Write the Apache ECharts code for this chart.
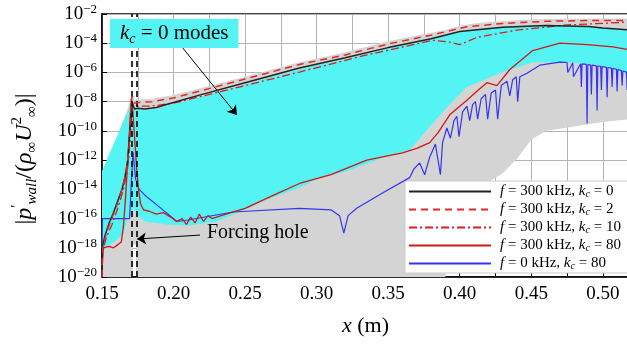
<!DOCTYPE html>
<html>
<head>
<meta charset="utf-8">
<script src="https://cdn.jsdelivr.net/npm/echarts@6/dist/echarts.min.js"></script>
<style>
  html, body { margin: 0; padding: 0; background: #fff; }
  #chart { width: 627px; height: 344px; }
</style>
</head>
<body>
<div id="chart"></div>
<script>
// values on the y axis are log10 of |p'wall / (rho U^2)|
const SERIF = 'Liberation Serif';

// f = 300 kHz, kc = 0
const blackX = [0.150, 0.1505, 0.152, 0.155, 0.158, 0.161, 0.164, 0.166, 0.168, 0.1695, 0.1708, 0.1716, 0.1728, 0.175, 0.180, 0.188, 0.195, 0.22, 0.25, 0.288, 0.32, 0.35, 0.38, 0.40, 0.43, 0.46, 0.49, 0.50, 0.519];
const blackY = [-20, -17.8, -17.2, -16.3, -15.6, -14.8, -14.0, -13.2, -12.0, -10.0, -8.1, -8.0, -8.5, -8.45, -8.5, -8.4, -8.2, -7.5, -6.7, -5.7, -5.0, -4.3, -3.7, -3.2, -2.9, -2.78, -2.85, -2.95, -3.1];

// f = 300 kHz, kc = 2
const dashX = [0.150, 0.1505, 0.153, 0.156, 0.160, 0.164, 0.167, 0.169, 0.1703, 0.1712, 0.1725, 0.176, 0.185, 0.20, 0.25, 0.288, 0.32, 0.35, 0.38, 0.405, 0.43, 0.46, 0.49, 0.519];
const dashY = [-20, -18.0, -17.0, -16.2, -15.2, -14.0, -12.8, -11.0, -8.0, -7.6, -8.1, -8.05, -8.0, -7.75, -6.45, -5.45, -4.8, -4.05, -3.45, -2.87, -2.65, -2.5, -2.45, -2.45];

// f = 300 kHz, kc = 10
const dotX = [0.150, 0.1505, 0.153, 0.157, 0.161, 0.165, 0.168, 0.1698, 0.171, 0.1722, 0.175, 0.185, 0.20, 0.25, 0.288, 0.335, 0.365, 0.381, 0.392, 0.40, 0.412, 0.44, 0.475, 0.519];
const dotY = [-20, -18.2, -17.3, -16.4, -15.3, -14.0, -12.5, -10.5, -8.0, -8.3, -8.3, -8.3, -8.1, -6.9, -5.97, -4.8, -4.15, -3.8, -3.9, -4.1, -3.6, -3.1, -2.75, -2.55];

// f = 300 kHz, kc = 80
const redX = [0.150, 0.1503, 0.1508, 0.152, 0.155, 0.158, 0.161, 0.1635, 0.165, 0.1665, 0.168, 0.1695, 0.1705, 0.1715, 0.1728, 0.174, 0.1755, 0.177, 0.179, 0.183, 0.188, 0.193, 0.198, 0.202, 0.206, 0.209, 0.212, 0.215, 0.218, 0.221, 0.224, 0.227, 0.23, 0.24, 0.25, 0.27, 0.288, 0.31, 0.335, 0.36, 0.37, 0.379, 0.385, 0.393, 0.405, 0.413, 0.419, 0.426, 0.435, 0.451, 0.47, 0.489, 0.507, 0.519];
const redY = [-20, -18.6, -18.0, -18.1, -17.9, -18.0, -17.8, -17.6, -16.5, -14.5, -12.0, -9.5, -7.8, -8.6, -10.5, -12.3, -14.0, -15.0, -15.4, -15.5, -15.7, -15.6, -15.9, -16.2, -16.0, -16.4, -15.9, -16.3, -15.7, -16.2, -15.8, -16.0, -15.9, -15.6, -15.3, -14.4, -13.6, -13.0, -12.0, -11.5, -11.2, -10.8, -10.1, -8.9, -7.9, -7.2, -6.7, -6.9, -5.8, -4.5, -4.0, -4.1, -4.25, -4.45];

// f = 0 kHz, kc = 80
const blueX = [0.150, 0.1503, 0.155, 0.160, 0.165, 0.1693, 0.1705, 0.1717, 0.1735, 0.176, 0.180, 0.190, 0.2024, 0.21, 0.2417, 0.288, 0.31, 0.316, 0.319, 0.322, 0.328, 0.346, 0.365, 0.368, 0.372, 0.3755, 0.379, 0.383, 0.3865, 0.388, 0.391, 0.3935, 0.396, 0.398, 0.3995, 0.402, 0.405, 0.407, 0.409, 0.411, 0.4125, 0.415, 0.418, 0.4195, 0.422, 0.425, 0.4265, 0.429, 0.433, 0.435, 0.437, 0.4395, 0.4405, 0.442, 0.447, 0.456, 0.47, 0.475, 0.4755, 0.479, 0.4795, 0.4845, 0.485, 0.4855, 0.4885, 0.489, 0.4895, 0.4915, 0.492, 0.4925, 0.4955, 0.496, 0.4965, 0.4985, 0.499, 0.4995, 0.5025, 0.503, 0.5035, 0.506, 0.5065, 0.507, 0.5095, 0.51, 0.5105, 0.513, 0.5135, 0.514, 0.5165, 0.517, 0.5175, 0.519];
const blueY = [-18, -16.0, -16.0, -16.0, -16.0, -16.0, -13.5, -11.45, -13.3, -14.0, -14.4, -15.2, -16.2, -16.1, -15.55, -15.3, -15.4, -15.8, -17.0, -15.8, -15.3, -14.25, -13.2, -12.6, -12.2, -13.0, -11.8, -10.9, -13.0, -10.8, -9.8, -10.5, -9.3, -9.0, -10.4, -8.7, -8.3, -9.3, -8.2, -8.0, -9.2, -7.8, -7.5, -9.2, -7.4, -7.2, -9.2, -6.9, -6.6, -7.6, -6.5, -6.3, -8.0, -6.3, -6.05, -5.5, -5.3, -5.32, -6.0, -5.34, -6.3, -5.4, -7.0, -5.42, -5.45, -9.5, -5.47, -5.5, -7.5, -5.5, -5.55, -8.6, -5.56, -5.58, -7.2, -5.6, -5.65, -7.7, -5.66, -5.7, -7.0, -5.72, -5.78, -7.3, -5.8, -5.88, -6.9, -5.9, -5.98, -7.2, -6.0, -6.05];

// envelope of the kc = 0 modes (cyan)
const cyanX = [0.150, 0.155, 0.160, 0.165, 0.168, 0.1708, 0.1725, 0.175, 0.180, 0.188, 0.195, 0.21, 0.23, 0.25, 0.265, 0.288, 0.302, 0.32, 0.35, 0.365, 0.381, 0.393, 0.405, 0.428, 0.451, 0.475, 0.498, 0.519];
const cyanTop = [-12.8, -11.6, -10.5, -9.3, -8.7, -7.9, -8.3, -8.5, -8.55, -8.5, -8.3, -7.9, -7.35, -6.8, -6.4, -5.8, -5.45, -5.1, -4.35, -4.05, -3.65, -3.4, -3.15, -2.92, -2.8, -2.8, -2.95, -3.15];
const cyanBottom = [-18.3, -17.8, -17.5, -17.0, -16.0, -15.5, -15.3, -15.8, -16.2, -16.3, -16.4, -16.5, -16.2, -15.4, -14.7, -13.9, -13.2, -12.8, -11.7, -11.3, -9.5, -8.2, -7.0, -6.05, -5.3, -5.3, -5.5, -6.1];

// envelope of all other modes (grey)
const grayX = [0.150, 0.160, 0.165, 0.1703, 0.1712, 0.1714, 0.1715, 0.1725, 0.1738, 0.1739, 0.176, 0.185, 0.20, 0.25, 0.288, 0.32, 0.35, 0.38, 0.39, 0.395, 0.40, 0.41, 0.42, 0.43, 0.44, 0.45, 0.46, 0.48, 0.50, 0.519];
const grayTop = [-12.8, -10.5, -9.3, -7.8, -7.45, -7.5, -7.5, -7.9, -7.85, -7.85, -7.85, -7.8, -7.55, -6.3, -5.3, -4.62, -3.87, -3.28, -3.1, -2.95, -2.8, -2.65, -2.55, -2.5, -2.43, -2.38, -2.35, -2.32, -2.3, -2.3];
const grayBottom = [-20, -20, -20, -20, -20, -20, -17.8, -17.8, -17.8, -20, -20, -20, -20, -20, -20, -20, -20, -20, -20, -16.0, -14.5, -14.0, -13.5, -12.9, -11.9, -10.6, -10.0, -9.7, -9.4, -9.2];

const holeX = [0.1711, 0.1742];

const legendNames = ['k0', 'k2', 'k10', 'k80', 'f0'];
const legendLabels = [
  '{i|f} = 300 kHz, {i|k}{sub|c} = 0',
  '{i|f} = 300 kHz, {i|k}{sub|c} = 2',
  '{i|f} = 300 kHz, {i|k}{sub|c} = 10',
  '{i|f} = 300 kHz, {i|k}{sub|c} = 80',
  '{i|f} = 0 kHz, {i|k}{sub|c} = 80'
];

const zip = (xs, ys) => xs.map((x, i) => [x, ys[i]]);

// filled region between two envelopes, drawn as one polygon through the axes
function band(xs, lo, hi, color) {
  return {
    type: 'custom', coordinateSystem: 'cartesian2d', silent: true, clip: true, z: 1,
    data: [[xs[0], lo[0]]],
    renderItem: (params, api) => {
      const pts = xs.map((x, i) => api.coord([x, hi[i]]));
      for (let i = xs.length - 1; i >= 0; i--) pts.push(api.coord([xs[i], lo[i]]));
      return { type: 'polygon', shape: { points: pts }, style: { fill: color } };
    }
  };
}

const chart = echarts.init(document.getElementById('chart'));

chart.setOption({
  animation: false,
  grid: { left: 102, right: -2, top: 14, bottom: 67, show: true, borderColor: '#000', borderWidth: 1.5, backgroundColor: 'transparent', outerBoundsMode: 'none' },
  xAxis: {
    type: 'value', min: 0.15, max: 0.5183, interval: 0.025,
    axisLine: { lineStyle: { color: '#000', width: 1.5 } },
    axisTick: { inside: true, length: 4, lineStyle: { color: '#000' } },
    splitLine: { show: true, lineStyle: { color: '#b4b4b4', width: 1 } },
    axisLabel: {
      margin: 8, color: '#000', fontFamily: SERIF, fontSize: 19,
      formatter: v => (Math.round(v * 1000) % 50 === 0 ? v.toFixed(2) : '')
    },
    name: '{i|x} (m)', nameLocation: 'middle', nameGap: 38,
    nameTextStyle: { color: '#000', fontFamily: SERIF, fontSize: 22,
      rich: { i: { fontStyle: 'italic', fontFamily: SERIF, fontSize: 22, color: '#000' } } }
  },
  yAxis: {
    type: 'value', min: -20, max: -2, interval: 2,
    axisLine: { lineStyle: { color: '#000', width: 1.5 } },
    axisTick: { inside: true, length: 5, lineStyle: { color: '#000' } },
    splitLine: { show: true, lineStyle: { color: '#b4b4b4', width: 1 } },
    axisLabel: {
      margin: 5, color: '#000', fontFamily: SERIF, fontSize: 19, lineHeight: 22,
      formatter: v => '10{s|' + (v < 0 ? '\u2212' : '') + Math.abs(v) + '}',
      rich: { s: { fontSize: 13, fontFamily: SERIF, color: '#000', verticalAlign: 'top' } }
    }
  },
  legend: {
    data: legendNames, orient: 'vertical', left: 405, top: 181,
    backgroundColor: '#fff', borderColor: '#ccc', borderWidth: 1, borderRadius: 0,
    padding: [3, 8, 2, 3], itemGap: 3, itemWidth: 82, itemHeight: 14,
    itemStyle: { opacity: 0 },
    formatter: name => legendLabels[legendNames.indexOf(name)],
    textStyle: {
      color: '#000', fontFamily: SERIF, fontSize: 15, padding: [0, 0, 0, 4],
      rich: {
        i: { fontStyle: 'italic', fontFamily: SERIF, fontSize: 15, color: '#000' },
        sub: { fontStyle: 'italic', fontFamily: SERIF, fontSize: 10, color: '#000', verticalAlign: 'bottom' }
      }
    }
  },
  graphic: [
    {
      type: 'text', z: 100, left: 110, top: 19,
      style: {
        text: '{i|k}{sub|c}{n| = 0 modes}',
        backgroundColor: '#55f4f4', padding: [2, 10, 2, 10],
        rich: {
          i: { fontStyle: 'italic', fontFamily: SERIF, fontSize: 21, fill: '#000', lineHeight: 25 },
          sub: { fontStyle: 'italic', fontFamily: SERIF, fontSize: 14, fill: '#000', verticalAlign: 'bottom' },
          n: { fontFamily: SERIF, fontSize: 21, fill: '#000', lineHeight: 25 }
        }
      }
    },
    {
      type: 'text', z: 100, x: 207, y: 233,
      style: { text: 'Forcing hole', fontFamily: SERIF, fontSize: 20, fill: '#000', verticalAlign: 'middle' }
    },
    {
      type: 'text', z: 100, x: 25, y: 159, rotation: Math.PI / 2,
      style: {
        text: '|{i|p}{sup|\u2032}{sub|wall}/({g|\u03c1}{sub|\u221e}{i|U}{sup|2}{sub|\u221e})|',
        fontFamily: SERIF, fontSize: 24, fill: '#000', align: 'center', verticalAlign: 'middle',
        rich: {
          i: { fontStyle: 'italic', fontFamily: SERIF, fontSize: 24, fill: '#000', lineHeight: 30 },
          g: { fontStyle: 'italic', fontFamily: SERIF, fontSize: 24, fill: '#000', lineHeight: 30 },
          sup: { fontFamily: SERIF, fontSize: 15, fill: '#000', verticalAlign: 'top' },
          sub: { fontStyle: 'italic', fontFamily: SERIF, fontSize: 15, fill: '#000', verticalAlign: 'bottom' }
        }
      }
    }
  ],
  series: [
    band(grayX, grayBottom, grayTop, '#d4d4d4'),
    band(cyanX, cyanBottom, cyanTop, '#55f4f4'),
    {
      type: 'line', symbol: 'none', silent: true, z: 3, data: [],
      markLine: {
        silent: true, symbol: 'none', precision: 5, label: { show: false }, animation: false,
        lineStyle: { color: '#000', width: 1.6, type: [6, 4] },
        data: holeX.map(x => ({ xAxis: x }))
      }
    },
    {
      type: 'line', symbol: 'none', silent: true, z: 6, data: [],
      markLine: {
        silent: true, symbol: ['none', 'arrow'], symbolSize: 9, precision: 5, label: { show: false }, animation: false,
        lineStyle: { color: '#000', width: 1, type: 'solid' },
        data: [
          [{ coord: [0.2059, -4.26] }, { coord: [0.2443, -8.91] }],
          [{ coord: [0.2185, -17.13] }, { coord: [0.1745, -17.4] }]
        ]
      }
    },
    { name: 'f0', type: 'line', symbol: 'none', z: 4, data: zip(blueX, blueY),
      lineStyle: { color: '#3535f0', width: 1.2 }, itemStyle: { color: '#3535f0' } },
    { name: 'k80', type: 'line', symbol: 'none', z: 4, data: zip(redX, redY),
      lineStyle: { color: '#d01818', width: 1.3 }, itemStyle: { color: '#d01818' } },
    { name: 'k10', type: 'line', symbol: 'none', z: 4, data: zip(dotX, dotY),
      lineStyle: { color: '#d42020', width: 1.3, type: [8, 3, 2, 3] }, itemStyle: { color: '#d42020' } },
    { name: 'k0', type: 'line', symbol: 'none', z: 5, data: zip(blackX, blackY),
      lineStyle: { color: '#222', width: 1.5 }, itemStyle: { color: '#222' } },
    { name: 'k2', type: 'line', symbol: 'none', z: 5, data: zip(dashX, dashY),
      lineStyle: { color: '#e02828', width: 1.5, type: [7, 5] }, itemStyle: { color: '#e02828' } }
  ]
});
</script>
</body>
</html>
